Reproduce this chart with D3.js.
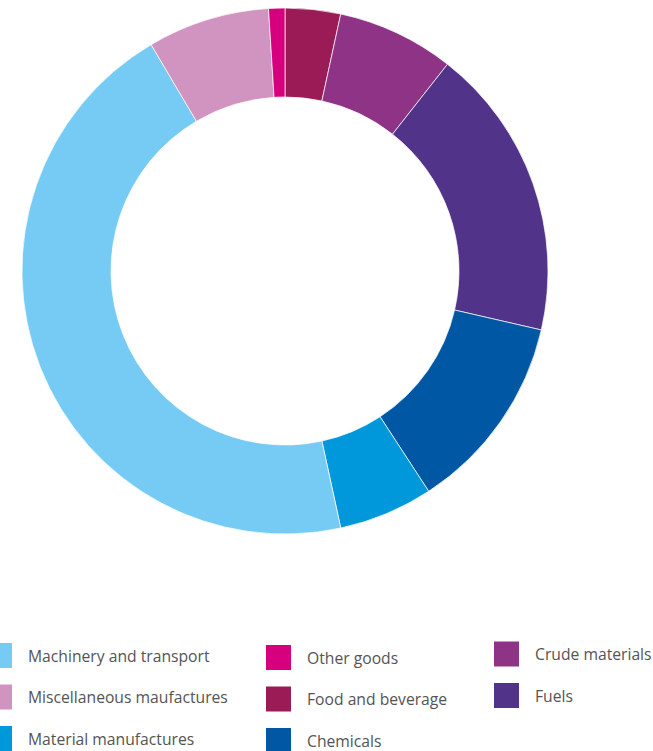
<!DOCTYPE html>
<html>
<head>
<meta charset="utf-8">
<script src="https://cdn.jsdelivr.net/npm/d3@7"></script>
<style>
  html, body { margin: 0; padding: 0; background: #ffffff; }
  svg { display: block; }
  .legend text { font-family: "Open Sans", sans-serif; font-size: 15.7px; fill: #545454; }
</style>
</head>
<body>
<svg id="chart" width="653" height="751"></svg>
<script>
// Share of goods by category (%), listed clockwise from 12 o'clock
const categories = [
  "Food and beverage",
  "Crude materials",
  "Fuels",
  "Chemicals",
  "Material manufactures",
  "Machinery and transport",
  "Miscellaneous maufactures",
  "Other goods"
];
const shares = [3.4, 7.2, 18.0, 12.2, 5.8, 44.9, 7.5, 1.0];
const colors = ["#9a1b56", "#8e3386", "#51338a", "#0058a5", "#0098da", "#76cbf4", "#d193c0", "#d6007f"];

// Legend reads down each column
const legendOrder = [
  "Machinery and transport", "Miscellaneous maufactures", "Material manufactures",
  "Other goods", "Food and beverage", "Chemicals",
  "Crude materials", "Fuels"
];

const data = categories.map((c, i) => ({ name: c, value: shares[i] }));
const color = d3.scaleOrdinal().domain(categories).range(colors);

const svg = d3.select("#chart");
const cx = 285, cy = 271, outerR = 263, innerR = 174;

const pie = d3.pie().sort(null).value(d => d.value);
const arc = d3.arc().innerRadius(innerR).outerRadius(outerR);

svg.append("g")
  .attr("transform", `translate(${cx},${cy})`)
  .selectAll("path")
  .data(pie(data))
  .join("path")
  .attr("d", arc)
  .attr("fill", d => color(d.data.name))
  .attr("stroke", "rgba(255,255,255,0.7)")
  .attr("stroke-width", 1);

// Legend: three columns, three rows
const colX = [-13, 266, 494];
const colY = [643, 645, 641.5];
const rowGap = 41.5, sq = 25;

const legend = svg.append("g").attr("class", "legend");
legendOrder.forEach((name, i) => {
  const col = Math.floor(i / 3), row = i % 3;
  const x = colX[col], y = colY[col] + row * rowGap;
  const g = legend.append("g").attr("transform", `translate(${x},${y})`);
  g.append("rect").attr("width", sq).attr("height", sq).attr("fill", color(name));
  g.append("text")
    .attr("x", sq + 16)
    .attr("y", sq / 2)
    .attr("dominant-baseline", "central")
    .text(name);
});
</script>
</body>
</html>
